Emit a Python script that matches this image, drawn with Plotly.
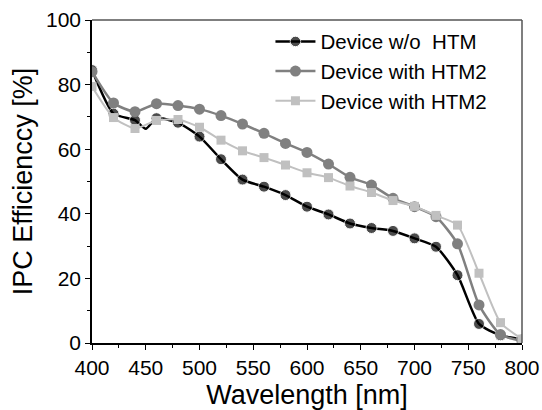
import plotly.graph_objects as go

wl_black = [400, 420, 440, 450, 460, 480, 500, 520, 540, 560, 580, 600, 620, 640, 660, 680, 700, 720, 740, 760, 780, 800]
ipce_black = [84.5, 71.0, 69.0, 66.3, 69.6, 68.2, 63.9, 56.9, 50.6, 48.4, 45.8, 42.2, 39.8, 37.0, 35.6, 34.7, 32.4, 29.8, 21.0, 5.9, 2.4, 1.1]
marker_black = [1, 1, 1, 0, 1, 1, 1, 1, 1, 1, 1, 1, 1, 1, 1, 1, 1, 1, 1, 1, 1, 1]

wl = [400, 420, 440, 460, 480, 500, 520, 540, 560, 580, 600, 620, 640, 660, 680, 700, 720, 740, 760, 780, 800]
ipce_htm2a = [84.0, 74.3, 71.6, 74.1, 73.5, 72.4, 70.4, 67.8, 64.9, 61.8, 59.0, 55.4, 51.3, 48.9, 44.8, 42.2, 39.1, 30.7, 11.8, 2.6, 0.6]
ipce_htm2b = [79.4, 69.8, 66.4, 68.9, 69.2, 66.8, 62.8, 59.5, 57.4, 55.1, 52.7, 51.2, 48.6, 46.6, 44.1, 42.3, 39.5, 36.5, 21.6, 6.3, 1.2]

names = ["Device w/o\u00a0\u00a0HTM", "Device with HTM2", "Device with HTM2"]

fig = go.Figure()
fig.add_trace(go.Scatter(
    x=wl_black, y=ipce_black, name=names[0], mode="lines+markers",
    line=dict(color="#000000", width=2.5, shape="spline", smoothing=0.6),
    marker=dict(symbol="circle", size=[11 * m for m in marker_black], color="#000000"),
))
fig.add_trace(go.Scatter(
    x=wl, y=ipce_htm2a, name=names[1], mode="lines+markers",
    line=dict(color="#808080", width=2.5, shape="spline", smoothing=0.6),
    marker=dict(symbol="circle", size=11, color="#808080"),
))
fig.add_trace(go.Scatter(
    x=wl, y=ipce_htm2b, name=names[2], mode="lines+markers",
    line=dict(color="#c0c0c0", width=2, shape="spline", smoothing=0.6),
    marker=dict(symbol="square", size=9, color="#c0c0c0"),
))

font = "'Liberation Sans', Arial, Helvetica, sans-serif"
fig.update_layout(
    width=542, height=410,
    margin=dict(l=92, r=20, t=20, b=67, autoexpand=False),
    paper_bgcolor="white", plot_bgcolor="white",
    font=dict(family=font, color="#000000", size=21),
    showlegend=True,
    legend=dict(x=0.415, y=0.995, xanchor="left", yanchor="top",
                bgcolor="rgba(0,0,0,0)", font=dict(size=20.5), tracegroupgap=0,
                itemwidth=40),
    xaxis=dict(
        range=[400, 800], tickmode="linear", tick0=400, dtick=50,
        showgrid=False, zeroline=False, automargin=False,
        showline=True, linecolor="#000000", linewidth=1.5,
        ticks="outside", ticklen=5, tickwidth=1.2, tickcolor="#000000",
        minor=dict(ticks="outside", ticklen=3, dtick=25, tickcolor="#000000", showgrid=False),
        tickfont=dict(size=21),
        title=dict(text="Wavelength [nm]", font=dict(size=27), standoff=7),
    ),
    yaxis=dict(
        range=[0, 100], tickmode="linear", tick0=0, dtick=20,
        showgrid=False, zeroline=False, automargin=False,
        showline=True, linecolor="#000000", linewidth=1.5,
        ticks="outside", ticklen=5, tickwidth=1.2, tickcolor="#000000",
        minor=dict(ticks="outside", ticklen=3, dtick=10, tickcolor="#000000", showgrid=False),
        tickfont=dict(size=21),
        title=dict(text="IPC Efficienccy [%]", font=dict(size=27), standoff=6),
    ),
    shapes=[
        dict(type="line", xref="paper", yref="paper", x0=0, x1=1, y0=1, y1=1,
             line=dict(color="#555555", width=1.5)),
        dict(type="line", xref="paper", yref="paper", x0=1, x1=1, y0=0, y1=1,
             line=dict(color="#555555", width=1.5)),
    ],
)

fig.write_html("out.html")
